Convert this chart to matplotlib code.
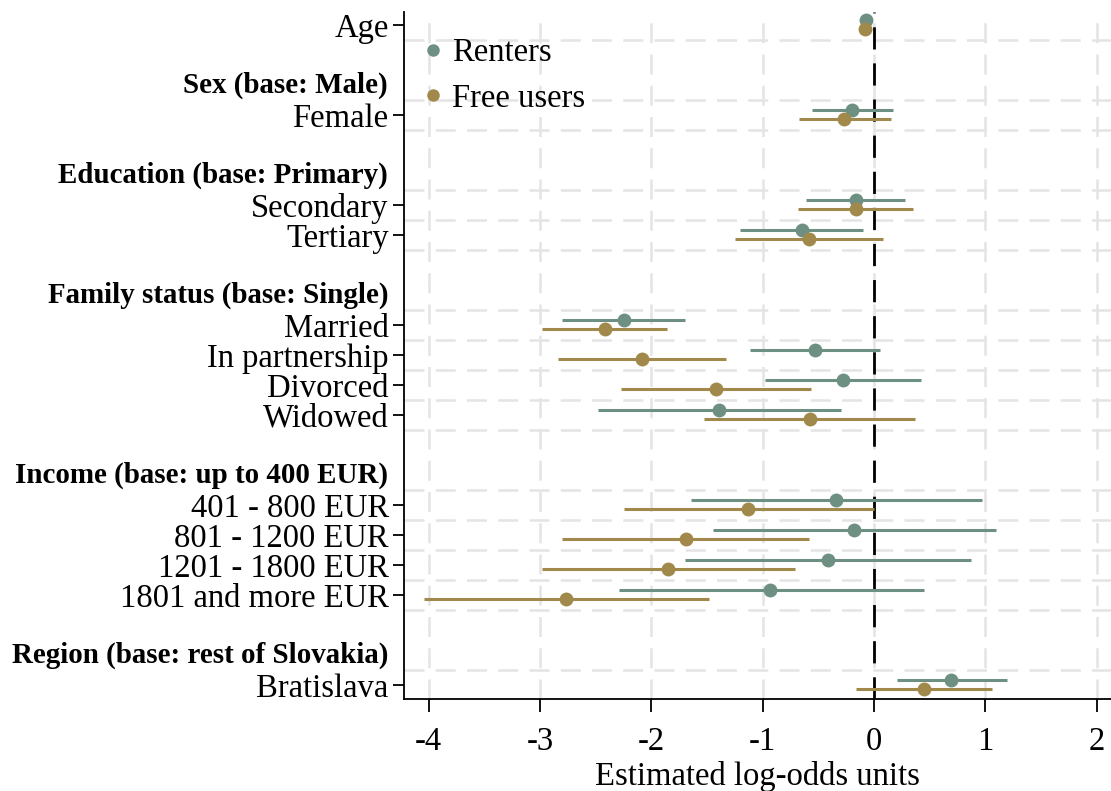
import numpy as np
import matplotlib
matplotlib.use("Agg")
import matplotlib.pyplot as plt
from matplotlib.lines import Line2D
from matplotlib.transforms import blended_transform_factory

plt.rcParams['font.family'] = ['Liberation Serif', 'DejaVu Serif']

# ----------------------------
# DATA
# ----------------------------
groups = [
    None,
    "Sex (base: Male)",
    "Education (base: Primary)",
    "Family status (base: Single)",
    "Income (base: up to 400 EUR)",
    "Region (base: rest of Slovakia)",
]
group_terms = [
    ["Age"],
    ["Female"],
    ["Secondary", "Tertiary"],
    ["Married", "In partnership", "Divorced", "Widowed"],
    ["401 - 800 EUR", "801 - 1200 EUR", "1201 - 1800 EUR", "1801 and more EUR"],
    ["Bratislava"],
]

renters_b  = [-0.07, -0.195, -0.165, -0.65, -2.246, -0.527, -0.28, -1.39,
              -0.34, -0.175, -0.415, -0.93, 0.696]
renters_lo = [-0.09, -0.56, -0.61, -1.20, -2.80, -1.11, -0.98, -2.48,
              -1.645, -1.443, -1.70, -2.29, 0.203]
renters_hi = [-0.05, 0.175, 0.275, -0.10, -1.695, 0.057, 0.42, -0.30,
              0.968, 1.10, 0.875, 0.447, 1.193]

free_b  = [-0.08, -0.27, -0.16, -0.585, -2.42, -2.087, -1.42, -0.575,
           -1.13, -1.69, -1.85, -2.767, 0.447]
free_lo = [-0.10, -0.67, -0.68, -1.25, -2.98, -2.84, -2.27, -1.525,
           -2.25, -2.80, -2.98, -4.04, -0.163]
free_hi = [-0.06, 0.15, 0.355, 0.08, -1.86, -1.33, -0.57, 0.37,
           0.0, -0.58, -0.71, -1.48, 1.058]

series = ["Renters", "Free users"]
xticks = [-4, -3, -2, -1, 0, 1, 2]

# ----------------------------
# LAYOUT OF ROWS
# ----------------------------
term_rows, term_labels, head_rows = [], [], []
row = 0
for head, terms in zip(groups, group_terms):
    if head is not None:
        head_rows.append((row, head))
        row += 1
    for t in terms:
        term_rows.append(row)
        term_labels.append(t)
        row += 1
    row += 1  # gap
term_rows = np.array(term_rows, dtype=float)

C_RENT = "#6e9083"
C_FREE = "#a0894a"
GRID = "#e4e4e4"
FS = 23.5

fig = plt.figure(figsize=(11.11, 7.91), dpi=100)
ax = fig.add_axes([0.3636, 0.1163, 0.6364, 0.8685])

# grid between coefficient rows
hlines = sorted(set(np.concatenate([term_rows - 0.5, term_rows + 0.5])))
for h in hlines:
    ax.axhline(h, color=GRID, lw=1.8, ls=(0, (8, 4.5)), zorder=0)
for xt in xticks:
    ax.axvline(xt, color=GRID, lw=1.8, ls=(0, (8, 4.5)), zorder=0)

ax.axvline(0, color="black", lw=2.0, ls=(0, (8, 5)), zorder=1)

off = 0.15
for b, lo, hi, col, d in [(renters_b, renters_lo, renters_hi, C_RENT, -off),
                          (free_b, free_lo, free_hi, C_FREE, off)]:
    y = term_rows + d
    ax.hlines(y, lo, hi, color=col, lw=2.2, zorder=2)
    ax.plot(b, y, "o", color=col, ms=10, mec="none", zorder=3)

ax.set_xlim(-4.223, 2.13)
ax.set_ylim(22.47, -0.43)
ax.set_xticks(xticks)
ax.set_xticklabels([str(v) for v in xticks], fontsize=FS)
ax.set_yticks(term_rows)
ax.set_yticklabels(term_labels, fontsize=FS)
ax.tick_params(axis="y", length=8, width=1.3, pad=3)
ax.tick_params(axis="x", length=9, width=1.3, pad=11)
ax.set_xlabel("Estimated log-odds units", fontsize=FS, labelpad=3)

for s in ["top", "right"]:
    ax.spines[s].set_visible(False)
for s in ["left", "bottom"]:
    ax.spines[s].set_linewidth(1.3)

trans = blended_transform_factory(ax.transAxes, ax.transData)
for r, h in head_rows:
    ax.text(-0.0225, r, h, transform=trans, ha="right", va="center",
            fontsize=20.9, fontweight="bold")

handles = [Line2D([], [], ls="none", marker="o", ms=9, color=C_RENT, mec="none"),
           Line2D([], [], ls="none", marker="o", ms=9, color=C_FREE, mec="none")]
ax.legend(handles, series, loc="upper left", bbox_to_anchor=(-0.015, 1.005),
          frameon=False, fontsize=FS, handlelength=0.6, handletextpad=0.3,
          labelspacing=0.45)

fig.savefig("out.png", dpi=100)
